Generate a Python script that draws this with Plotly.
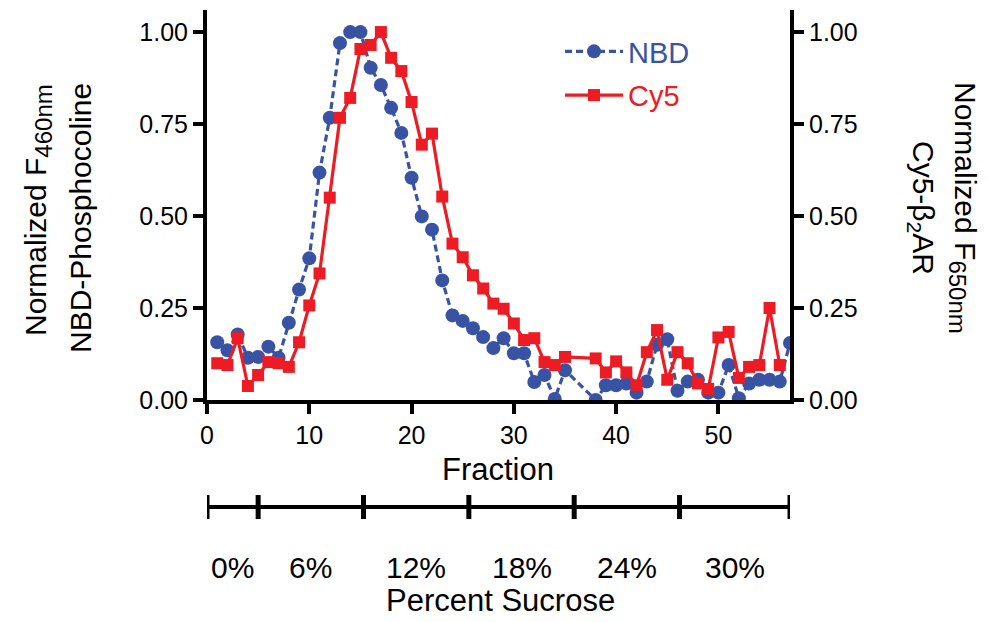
import plotly.graph_objects as go

# ---- data ----
nbd_fraction = list(range(1, 36)) + list(range(38, 58))
nbd_values = [0.157, 0.135, 0.178, 0.115, 0.117, 0.145, 0.115, 0.21, 0.30, 0.385,
              0.618, 0.767, 0.97, 1.0, 1.0, 0.903, 0.856, 0.794, 0.726, 0.604,
              0.499, 0.463, 0.325, 0.23, 0.215, 0.195, 0.171, 0.141, 0.168, 0.127,
              0.127, 0.049, 0.068, 0.003, 0.081,
              0.0, 0.04, 0.04, 0.045, 0.02, 0.05, 0.15, 0.165, 0.025, 0.05,
              0.055, 0.02, 0.02, 0.095, 0.005, 0.045, 0.055, 0.055, 0.05, 0.155]

cy5_fraction = list(range(1, 36)) + list(range(38, 57))
cy5_values = [0.10, 0.095, 0.168, 0.038, 0.068, 0.103, 0.10, 0.09, 0.157, 0.257,
              0.344, 0.55, 0.767, 0.821, 0.954, 0.965, 1.0, 0.93, 0.894, 0.81,
              0.694, 0.724, 0.553, 0.425, 0.388, 0.339, 0.303, 0.262, 0.248, 0.208,
              0.163, 0.168, 0.103, 0.095, 0.117,
              0.113, 0.075, 0.105, 0.075, 0.04, 0.13, 0.19, 0.055, 0.13, 0.10,
              0.045, 0.03, 0.17, 0.185, 0.06, 0.09, 0.095, 0.25, 0.095]

x_ticks = [0, 10, 20, 30, 40, 50]
y_ticks = [0.0, 0.25, 0.5, 0.75, 1.0]
sucrose_bounds = [0, 5, 15.3, 25.6, 35.9, 46.2, 57]
sucrose_labels = ["0%", "6%", "12%", "18%", "24%", "30%"]

BLUE = "#3953A4"
RED = "#ED1C24"
FONT = "Liberation Sans, Arial, Helvetica, sans-serif"

# page has an 8px body margin: figure drawn 8px in from the window corner
OFF = 8
PL, PR, PT, PB = 207, 790, 10, 400          # plot area in window pixels
PW, PH = PR - PL, PB - PT


def px(xpix):
    return (xpix - PL) / PW


def py(ypix):
    return 1 - (ypix - PT) / PH


fig = go.Figure()
fig.add_trace(go.Scatter(
    x=nbd_fraction, y=nbd_values, mode="lines+markers",
    name=f"<span style='color:{BLUE}'>NBD</span>", legendgroup="a",
    line=dict(color=BLUE, width=3.2, dash="7px,4px"),
    marker=dict(symbol="circle", size=14, color=BLUE),
    yaxis="y"))
fig.add_trace(go.Scatter(
    x=cy5_fraction, y=cy5_values, mode="lines+markers",
    name=f"<span style='color:{RED}'>Cy5</span>", legendgroup="b",
    line=dict(color=RED, width=3.2),
    marker=dict(symbol="square", size=12, color=RED),
    yaxis="y2"))

axis_common = dict(showgrid=False, zeroline=False, showline=True, linecolor="black",
                   linewidth=4, ticks="outside", ticklen=10, tickwidth=4,
                   tickcolor="black", automargin=False,
                   tickfont=dict(family=FONT, size=25, color="black"))

W, H = 989 - OFF, 622 - OFF
fig.update_layout(
    width=W, height=H,
    margin=dict(l=PL - OFF, r=W - (PR - OFF), t=PT - OFF, b=H - (PB - OFF), pad=0),
    plot_bgcolor="white", paper_bgcolor="white",
    font=dict(family=FONT, color="black"),
    xaxis=dict(range=[0, 57], tickvals=x_ticks, **axis_common),
    yaxis=dict(range=[0, 1.06], tickvals=y_ticks, tickformat=".2f", **axis_common),
    yaxis2=dict(range=[0, 1.06], tickvals=y_ticks, tickformat=".2f", overlaying="y",
                side="right", anchor="x", **axis_common),
    showlegend=True,
    legend=dict(x=px(560), y=py(26), xanchor="left", yanchor="top",
                font=dict(family=FONT, size=29), traceorder="grouped",
                tracegroupgap=3, bgcolor="rgba(0,0,0,0)", itemwidth=58),
)

# sucrose bar
y_bar = py(507)
tick_half = 12 / PH
fig.add_shape(type="line", xref="x", yref="paper", x0=sucrose_bounds[0], x1=sucrose_bounds[-1],
              y0=y_bar, y1=y_bar, line=dict(color="black", width=4))
for b in sucrose_bounds:
    fig.add_shape(type="line", xref="x", yref="paper", x0=b, x1=b,
                  y0=y_bar - tick_half, y1=y_bar + tick_half, line=dict(color="black", width=5))
for i, lab in enumerate(sucrose_labels):
    mid = (sucrose_bounds[i] + sucrose_bounds[i + 1]) / 2
    fig.add_annotation(x=mid, xref="x", y=py(567), yref="paper", xanchor="center",
                       yanchor="middle", text=lab, showarrow=False,
                       font=dict(family=FONT, size=30))

big = dict(family=FONT, size=31)
fig.add_annotation(x=px(498), xref="paper", y=py(469), yref="paper", xanchor="center",
                   yanchor="middle", text="Fraction", showarrow=False, font=big)
fig.add_annotation(x=px(500), xref="paper", y=py(600), yref="paper", xanchor="center",
                   yanchor="middle", text="Percent Sucrose", showarrow=False, font=big)

# y titles
tfont = dict(family=FONT, size=30)
sub_l = "<sub><span style='font-size:24px'>460nm</span></sub>"
sub_r = "<sub><span style='font-size:24px'>650nm</span></sub>"
fig.add_annotation(x=px(38), xref="paper", y=py(210), yref="paper", xanchor="center",
                   yanchor="middle", text="Normalized F" + sub_l, textangle=-90,
                   showarrow=False, font=tfont)
fig.add_annotation(x=px(80), xref="paper", y=py(218), yref="paper", xanchor="center",
                   yanchor="middle", text="NBD-Phosphocoline", textangle=-90,
                   showarrow=False, font=tfont)
fig.add_annotation(x=px(963), xref="paper", y=py(208), yref="paper", xanchor="center",
                   yanchor="middle", text="Normalized F" + sub_r, textangle=90,
                   showarrow=False, font=tfont)
fig.add_annotation(x=px(922), xref="paper", y=py(208), yref="paper", xanchor="center",
                   yanchor="middle", text="Cy5-β<sub>2</sub>AR", textangle=90,
                   showarrow=False, font=tfont)

fig.write_html("out.html")
